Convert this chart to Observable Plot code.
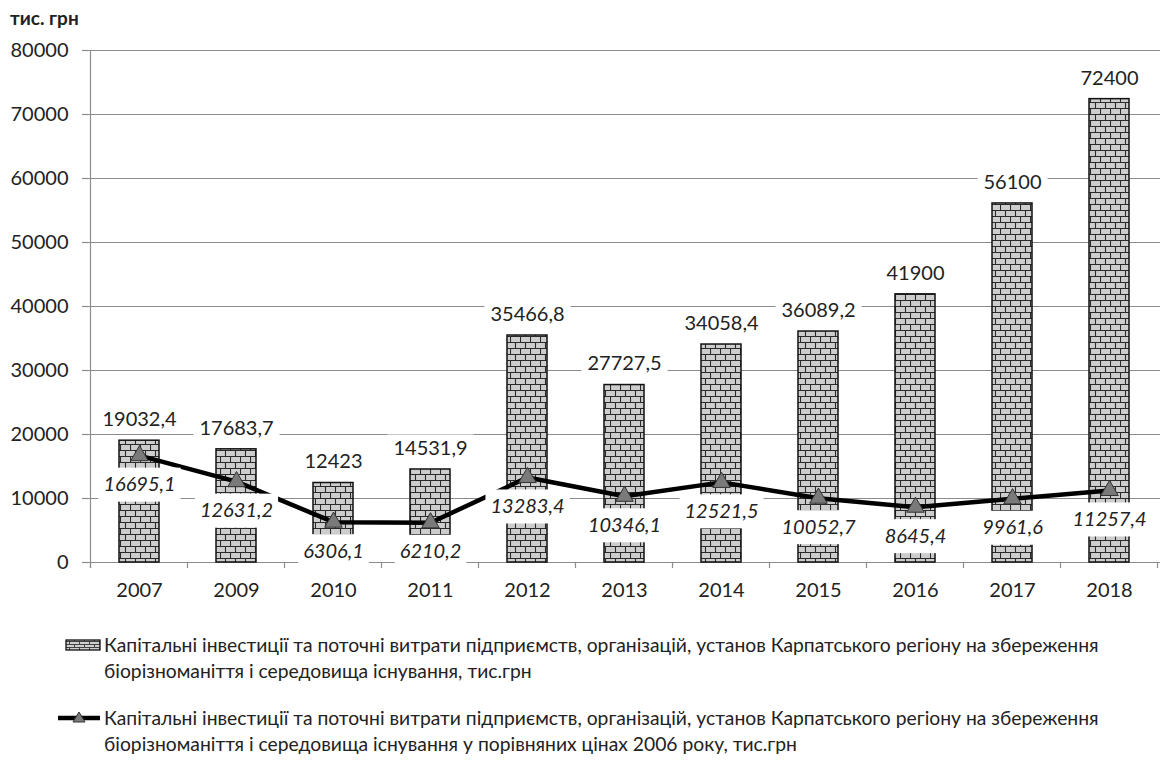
<!DOCTYPE html>
<html>
<head>
<meta charset="utf-8">
<script src="https://cdn.jsdelivr.net/npm/d3@7"></script>
<script src="https://cdn.jsdelivr.net/npm/@observablehq/plot@0.6"></script>
<style>
  body { margin: 0; background: #fff; font-family: Lato, "Noto Sans", sans-serif; color: #222; }
  #wrap { position: relative; width: 1167px; height: 781px; overflow: hidden; }
  #unit { position: absolute; left: 10px; top: 6px; font-weight: bold; font-size: 19px; }
  #chart { position: absolute; left: 0; top: 0; }
  .leg { position: absolute; left: 0; font-size: 19.3px; line-height: 26px; color: #222; }
  .leg svg { position: absolute; left: 64px; top: 6px; }
  .leg .txt { position: absolute; left: 104px; top: 0; white-space: nowrap; }
</style>
</head>
<body>
<div id="wrap">
  <div id="chart"></div>
  <div id="unit">тис. грн</div>
  <div class="leg" id="leg1" style="top:632px">
    <svg width="38" height="14">
      <defs>
        <pattern id="brickLeg" patternUnits="userSpaceOnUse" width="10" height="6">
          <rect width="10" height="6" fill="#cfcfcf"/>
          <path d="M0,0.5H10M0,3.5H10M0.5,0V3M5.5,3V6" stroke="#333" stroke-width="0.9"/>
        </pattern>
      </defs>
      <rect x="2" y="2" width="34" height="10" fill="url(#brickLeg)" stroke="#111" stroke-width="1.3"/>
    </svg>
    <div class="txt">Капітальні інвестиції та поточні витрати підприємств, організацій, установ Карпатського регіону на збереження<br>біорізноманіття і середовища існування, тис.грн</div>
  </div>
  <div class="leg" id="leg2" style="top:705px">
    <svg width="42" height="16" style="left:58px;top:5px">
      <line x1="0" y1="8" x2="42" y2="8" stroke="#000" stroke-width="4.5"/>
      <path d="M21,2 L27,12 L15,12 Z" fill="#7a7a7a" stroke="#333" stroke-width="1"/>
    </svg>
    <div class="txt">Капітальні інвестиції та поточні витрати підприємств, організацій, установ Карпатського регіону на збереження<br>біорізноманіття і середовища існування у порівняних цінах 2006 року, тис.грн</div>
  </div>
</div>
<script>
const years = ["2007", "2009", "2010", "2011", "2012", "2013", "2014", "2015", "2016", "2017", "2018"];
const investValues = [19032.4, 17683.7, 12423, 14531.9, 35466.8, 27727.5, 34058.4, 36089.2, 41900, 56100, 72400];
const comparableValues = [16695.1, 12631.2, 6306.1, 6210.2, 13283.4, 10346.1, 12521.5, 10052.7, 8645.4, 9961.6, 11257.4];
const yTicks = [0, 10000, 20000, 30000, 40000, 50000, 60000, 70000, 80000];

const data = years.map((year, i) => ({year, invest: investValues[i], comparable: comparableValues[i]}));
const fmt = v => String(v).replace(".", ",");
const FONT = "Lato";
const ns = "http://www.w3.org/2000/svg";

const gridColor = "#8c8c8c";

function defsMark() {
  const d = document.createElementNS(ns, "defs");
  d.innerHTML = `<pattern id="brick" patternUnits="userSpaceOnUse" width="10" height="12">
      <rect width="10" height="12" fill="#cdcdcd"/>
      <path d="M0,0.5H10M0,6.5H10M0.5,0V6M5.5,6V12" stroke="#2a2a2a" stroke-width="1.1"/>
    </pattern>`;
  return d;
}

// y axis line plus category boundary ticks on the x axis
function axisLinesMark(index, scales) {
  const g = document.createElementNS(ns, "g");
  const x = scales.x, y = scales.y;
  const step = x.step();
  const y0 = y(0);
  const bounds = years.map(c => x(c) + x.bandwidth() / 2 - step / 2);
  bounds.push(bounds[bounds.length - 1] + step);
  const addLine = (x1, y1, x2, y2) => {
    const l = document.createElementNS(ns, "line");
    l.setAttribute("x1", x1); l.setAttribute("y1", y1);
    l.setAttribute("x2", x2); l.setAttribute("y2", y2);
    l.setAttribute("stroke", gridColor);
    l.setAttribute("stroke-width", 1.2);
    g.appendChild(l);
  };
  addLine(bounds[0], y(80000), bounds[0], y0 + 6);
  for (const b of bounds) addLine(b, y0, b, y0 + 6);
  return g;
}

function boxedText(rows, options, fontSize, style, padX, boxH) {
  return Plot.text(rows, {
    ...options,
    fontSize,
    fontStyle: style,
    render(index, scales, values, dimensions, context, next) {
      const g = next(index, scales, values, dimensions, context);
      const ctx = document.createElement("canvas").getContext("2d");
      ctx.font = `${style} ${fontSize}px ${FONT}`;
      const first = g.firstChild;
      for (const i of index) {
        const t = values.text ? values.text[i] : "";
        const w = ctx.measureText(String(t)).width + 2 * padX;
        const r = document.createElementNS(ns, "rect");
        r.setAttribute("x", values.x[i] - w / 2);
        r.setAttribute("y", values.y[i] - boxH / 2);
        r.setAttribute("width", w);
        r.setAttribute("height", boxH);
        r.setAttribute("fill", "white");
        r.setAttribute("stroke", "none");
        g.insertBefore(r, first);
      }
      return g;
    }
  });
}

const chart = Plot.plot({
  width: 1167,
  height: 615,
  marginTop: 50,
  marginBottom: 53,
  marginLeft: 88,
  marginRight: 7,
  style: {fontFamily: `${FONT}, sans-serif`, fontSize: "20px", color: "#222", background: "white"},
  x: {type: "band", domain: years, paddingInner: 0.59, paddingOuter: 0.295, label: null},
  y: {domain: [0, 80000], label: null},
  marks: [
    defsMark,
    Plot.gridY({ticks: yTicks, stroke: gridColor, strokeOpacity: 1, strokeWidth: 1.2}),
    Plot.axisY({ticks: yTicks, tickSize: 6, tickPadding: 14, stroke: gridColor, strokeOpacity: 1, strokeWidth: 1.2, tickFormat: d => String(d), fill: "#222", fontSize: 20, label: null}),
    axisLinesMark,
    Plot.axisX({tickSize: 0, tickPadding: 20, fill: "#222", fontSize: 20, label: null}),
    Plot.barY(data, {x: "year", y: "invest", fill: "url(#brick)", stroke: "#111", strokeWidth: 1.5}),
    Plot.line(data, {x: "year", y: "comparable", stroke: "#000", strokeWidth: 4.5}),
    Plot.dot(data, {x: "year", y: "comparable", symbol: "triangle", r: 6.5, fill: "#7a7a7a", stroke: "#333", strokeWidth: 1}),
    boxedText(data, {x: "year", y: "invest", text: d => fmt(d.invest), dy: -21, fill: "#222"}, 20, "normal", 6, 28),
    boxedText(data, {x: "year", y: "comparable", text: d => fmt(d.comparable), dy: 29, fill: "#222"}, 20, "italic", 5, 34)
  ]
});
document.getElementById("chart").appendChild(chart);
</script>
</body>
</html>
